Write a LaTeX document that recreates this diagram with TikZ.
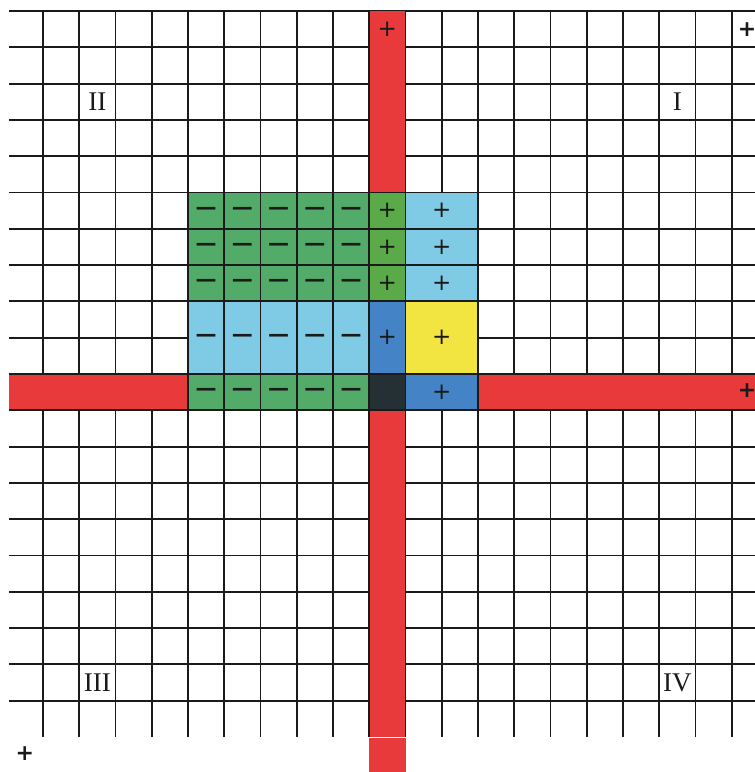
\documentclass[tikz,border=0pt]{standalone}
\usepackage{fontspec}
\newfontfamily\dv{DejaVu Sans}
\newfontfamily\quadfont{Liberation Serif}
\definecolor{redbar}{HTML}{E8393B}
\definecolor{gmin}{HTML}{52AB68}
\definecolor{gplus}{HTML}{5BAA4A}
\definecolor{lblue}{HTML}{7FCBE6}
\definecolor{mblue}{HTML}{4484C6}
\definecolor{yel}{HTML}{F2E541}
\definecolor{darkcell}{HTML}{253034}
\definecolor{ink}{HTML}{1A1A1A}
\tikzset{
  gridline/.style={line width=1.9pt, draw=ink},
  plussign/.style={font=\dv\fontsize{23}{23}\selectfont, inner sep=0pt, text=ink},
  bigplus/.style={font=\dv\bfseries\fontsize{22}{22}\selectfont, inner sep=0pt, text=ink},
  minussign/.style={font=\dv\bfseries\fontsize{21}{21}\selectfont, inner sep=0pt, text=ink},
  quadrant/.style={font=\quadfont\fontsize{27}{27}\selectfont, inner sep=0pt, text=ink},
}
\begin{document}
\begin{tikzpicture}[x=36.25pt,y=-36.3pt]
\useasboundingbox (-1.1862,-0.3030) rectangle (19.6414,20.9642);
\fill[white] (-1.1862,-0.3030) rectangle (19.6414,20.9642);
% grid
\foreach \j in {0,...,19} \draw[gridline] (-0.938,\j) -- (19.7,\j);
\foreach \i in {0,...,19} \draw[gridline] (\i,0) -- (\i,20);
% red bars
\fill[redbar] (9,0) rectangle (10,20);
\fill[redbar] (9,20.04) rectangle (10,21);
\fill[redbar] (-0.938,10) rectangle (4,11);
\fill[redbar] (12,10) rectangle (19.7,11);
\draw[gridline] (9,0) -- (9,20);
\draw[gridline] (10,0) -- (10,20);
\draw[gridline] (-0.938,10) -- (19.7,10);
\draw[gridline] (-0.938,11) -- (19.7,11);
% coloured cells
\foreach \j in {5,6,7,10} {
  \foreach \i in {4,...,8} {
    \draw[gridline, fill=gmin] (\i,\j) rectangle ++(1,1);
    \node[minussign] (m\i-\j) at (\i+0.5,\j+0.5) {—};
  }
}
\foreach \i in {4,...,8} {
  \draw[gridline, fill=lblue] (\i,8) rectangle ++(1,2);
  \node[minussign] (m\i-8) at (\i+0.5,9) {—};
}
\foreach \j in {5,6,7} {
  \draw[gridline, fill=gplus] (9,\j) rectangle ++(1,1);
  \node[plussign] (pg\j) at (9.5,\j+0.5) {+};
  \draw[gridline, fill=lblue] (10,\j) rectangle ++(2,1);
  \node[plussign] (pl\j) at (11,\j+0.5) {+};
}
\draw[gridline, fill=mblue] (9,8) rectangle ++(1,2);
\node[plussign] (pm8) at (9.5,9) {+};
\draw[gridline, fill=yel] (10,8) rectangle ++(2,2);
\node[plussign] (py8) at (11,9) {+};
\draw[gridline, fill=darkcell] (9,10) rectangle ++(1,1);
\draw[gridline, fill=mblue] (10,10) rectangle ++(2,1);
\node[plussign] (pm10) at (11,10.5) {+};
% outside signs
\node[plussign] (ptop) at (9.5,0.5) {+};
\node[bigplus] (ptr) at (19.42,0.52) {+};
\node[bigplus] (pright) at (19.42,10.47) {+};
\node[bigplus] (pbl) at (-0.5,20.47) {+};
% quadrant labels
\node[quadrant] (q1) at (17.5,2.5) {I};
\node[quadrant] (q2) at (1.5,2.5) {II};
\node[quadrant] (q3) at (1.5,18.5) {III};
\node[quadrant] (q4) at (17.5,18.5) {IV};
\end{tikzpicture}
\end{document}
